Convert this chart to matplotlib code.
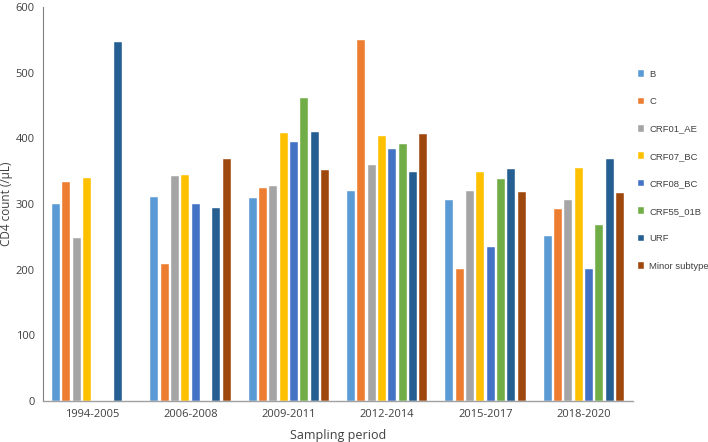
import numpy as np
import matplotlib
matplotlib.use("Agg")
import matplotlib.pyplot as plt

periods = ["1994-2005", "2006-2008", "2009-2011", "2012-2014", "2015-2017", "2018-2020"]
nan = np.nan
series_names = ["B", "C", "CRF01_AE", "CRF07_BC", "CRF08_BC", "CRF55_01B", "URF", "Minor subtype"]
B = [300, 310, 309, 320, 306, 251]
C = [334, 208, 325, 549, 201, 292]
CRF01_AE = [248, 342, 328, 360, 320, 306]
CRF07_BC = [340, 344, 408, 404, 348, 355]
CRF08_BC = [nan, 300, 394, 383, 235, 201]
CRF55_01B = [nan, nan, 461, 392, 338, 268]
URF = [546, 294, 409, 348, 354, 369]
Minor = [nan, 369, 352, 407, 318, 317]
values = [B, C, CRF01_AE, CRF07_BC, CRF08_BC, CRF55_01B, URF, Minor]
colors = ["#5B9BD5", "#ED7D31", "#A5A5A5", "#FFC000", "#4472C4", "#70AD47", "#255E91", "#9E480E"]
yticks = [0, 100, 200, 300, 400, 500, 600]

plt.rcParams['font.family'] = ['Open Sans', 'DejaVu Sans']
fig = plt.figure(figsize=(7.08, 4.42), dpi=100)
ax = fig.add_axes([43/708, 1-401/442, (633-43)/708, (401-7)/442])

x = np.arange(len(periods))
slot = 0.105
bw = 0.082
n = len(series_names)
for i, (name, vals, col) in enumerate(zip(series_names, values, colors)):
    off = (i - (n - 1) / 2) * slot
    ax.bar(x + off, vals, width=bw, color=col, label=name, edgecolor='white', linewidth=0.3)

ax.set_xlim(-0.5, len(periods) - 0.5)
ax.set_ylim(0, 600)
ax.set_yticks(yticks)
ax.set_xticks(x)
ax.set_xticklabels(periods)
ax.tick_params(axis='both', length=0, labelsize=8, colors='#404040', pad=6)
for s in ['top', 'right']:
    ax.spines[s].set_visible(False)
ax.spines['left'].set_color('#808080')
ax.spines['bottom'].set_color('#A0A0A0')
ax.spines['left'].set_linewidth(0.8)
ax.spines['bottom'].set_linewidth(1.0)
ax.set_ylabel("CD4 count (/μL)", fontsize=8.5, color='#404040')
ax.yaxis.set_label_coords(-30/590, 0.5)
ax.set_xlabel("Sampling period", fontsize=9, color='#404040', labelpad=6)

leg = fig.legend(loc='upper left', bbox_to_anchor=(634/708, 1-66/442), frameon=False,
                 handlelength=0.7, handleheight=0.7, handletextpad=0.5,
                 labelspacing=1.95, borderaxespad=0,
                 prop={'family': ['Liberation Sans'], 'size': 6.8})
for t in leg.get_texts():
    t.set_color('#404040')

fig.savefig("out.png", dpi=100)
